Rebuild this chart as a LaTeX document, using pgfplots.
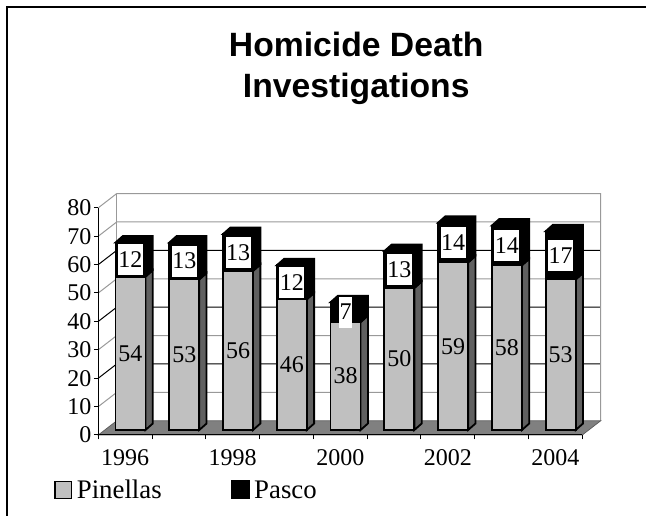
\documentclass[border=0pt]{standalone}
\usepackage{fontspec}
\setmainfont{Liberation Serif}
\newfontfamily\titlef{Liberation Sans}
\usepackage{pgfplots}
\usepackage{pgfplotstable}
\pgfplotsset{compat=1.18}
\definecolor{barfront}{HTML}{C0C0C0}
\definecolor{barside}{HTML}{606060}
\definecolor{floorc}{HTML}{808080}
\pgfplotstableread{
x Pinellas Pasco
1 54 12
2 53 13
3 56 13
4 46 12
5 38 7
6 50 13
7 59 14
8 58 14
9 53 17
}\homdata
% grid line: left wall diagonal and back wall line
\newcommand\GridLine[2]{%
  \pgfmathsetmacro\gy{#1+5}%
  \addplot[draw=#2,line width=1pt] coordinates {(0.5,#1) (0.842,\gy) (9.842,\gy)};
}
% side and top faces of one bar: category, Pinellas, Pasco
\newcommand\BarSides[3]{%
  \pgfmathsetmacro\xL{#1+0.0985-0.279}%
  \pgfmathsetmacro\xR{#1+0.0985+0.279}%
  \pgfmathsetmacro\xB{\xR+0.136}%
  \pgfmathsetmacro\xT{\xL+0.136}%
  \pgfmathsetmacro\yB{1.76}%
  \pgfmathsetmacro\yBb{1.76+2.28}%
  \pgfmathsetmacro\yA{1.76+#2}%
  \pgfmathsetmacro\yAb{\yA+2.28}%
  \pgfmathsetmacro\yC{\yA+#3}%
  \pgfmathsetmacro\yCb{\yC+2.28}%
  \addplot[fill=barside,draw=black,line width=1.8pt] coordinates {(\xR,\yB) (\xB,\yBb) (\xB,\yAb) (\xR,\yA)} --cycle;
  \addplot[fill=black,draw=black,line width=1.8pt] coordinates {(\xR,\yA) (\xB,\yAb) (\xB,\yCb) (\xT,\yCb) (\xL,\yC) (\xR,\yC)} --cycle;
}
\begin{document}
\begin{tikzpicture}
\useasboundingbox (0pt,0pt) rectangle (646pt,516pt);
\draw[line width=1.5pt,black] (7pt,0pt) -- (7pt,509pt) -- (646pt,509pt);
\begin{axis}[
  at={(98.3pt,81pt)},anchor=south west,scale only axis,width=484pt,height=227.2pt,
  xmin=0.5,xmax=9.5,ymin=0,ymax=80,clip=false,axis on top,
  axis x line=bottom,axis y line=left,axis line style={-,line width=1pt,black},
  xtick={1,3,5,7,9},xticklabels={1996,1998,2000,2002,2004},
  minor xtick={0.5,1.5,2.5,3.5,4.5,5.5,6.5,7.5,8.5,9.5},
  ytick={0,10,...,80},
  tick style={black,line width=1pt},
  major tick length=4.5pt,minor tick length=4.5pt,
  xtick style={draw=none},
  minor x tick style={draw=black,line width=1pt},
  tick align=outside,
  /pgf/number format/assume math mode=true,
  tick label style={font=\fontsize{24}{24}\selectfont},
  xticklabel style={yshift=-7pt},
  yticklabel style={xshift=1pt},
  title={\bfseries Homicide Death\\\bfseries Investigations},
  title style={font=\titlef\fontsize{33.7}{41}\selectfont,align=center,at={(axis description cs:0.533,1.764)},anchor=north},
]
\addplot[fill=white,draw=none] coordinates {(0.842,5) (9.842,5) (9.842,85) (0.842,85)} --cycle;
\GridLine{10}{gray!80}
\GridLine{20}{black}
\GridLine{30}{gray!80}
\GridLine{40}{black}
\GridLine{50}{gray!80}
\GridLine{60}{black}
\GridLine{70}{gray!80}
\addplot[draw=gray!80,line width=1pt] coordinates {(0.5,80) (0.842,85) (9.842,85) (9.842,5)};
\addplot[draw=gray!80,line width=1pt] coordinates {(0.842,5) (0.842,85)};
\addplot[fill=floorc,draw=floorc!70!black,line width=0.7pt] coordinates {(0.5,0) (9.5,0) (9.842,5) (0.842,5)} --cycle;
\BarSides{1}{54}{12}
\BarSides{2}{53}{13}
\BarSides{3}{56}{13}
\BarSides{4}{46}{12}
\BarSides{5}{38}{7}
\BarSides{6}{50}{13}
\BarSides{7}{59}{14}
\BarSides{8}{58}{14}
\BarSides{9}{53}{17}
\end{axis}
\begin{axis}[
  at={(103.6pt,86pt)},anchor=south west,scale only axis,width=484pt,height=227.2pt,
  xmin=0.5,xmax=9.5,ymin=0,ymax=80,clip=false,hide axis,
  ybar stacked,bar width=30pt,
  legend columns=2,
  area legend,
  legend style={at={(axis description cs:-0.103,-0.264)},anchor=west,draw=none,fill=none,inner sep=0pt,
    font=\fontsize{26.8}{26.8}\selectfont,
    nodes={inner xsep=4.5pt,inner ysep=0pt},
    /tikz/column 2/.style={column sep=65pt}},
]
\addplot[fill=barfront,draw=black,line width=1.8pt,
  legend image code/.code={\draw[fill=barfront,draw=black,line width=1.8pt] (0.9pt,-8.5pt) rectangle (17.5pt,8.5pt);}]
  table[x=x,y=Pinellas] {\homdata};
\addplot[fill=black,draw=black,line width=1.8pt,
  legend image code/.code={\draw[fill=black,draw=black,line width=1pt] (0.5pt,-9pt) rectangle (18pt,9pt);}]
  table[x=x,y=Pasco] {\homdata};
\legend{Pinellas,Pasco}
\end{axis}
\begin{axis}[
  at={(103.6pt,86pt)},anchor=south west,scale only axis,width=484pt,height=227.2pt,
  xmin=0.5,xmax=9.5,ymin=0,ymax=80,clip=false,hide axis,
  /pgf/number format/assume math mode=true,
  point meta=explicit,
  nodes near coords={\pgfmathprintnumber{\pgfplotspointmeta}},
]
\addplot[draw=none,mark=none,
  every node near coord/.style={anchor=center,font=\fontsize{24}{24}\selectfont,text=black}]
  table[x=x,y expr=\thisrow{Pinellas}/2,meta=Pinellas] {\homdata};
\addplot[draw=none,mark=none,
  every node near coord/.style={anchor=center,font=\fontsize{24}{24}\selectfont,text=black,fill=white,inner xsep=0.5pt,inner ysep=0pt,minimum height=31pt}]
  table[x=x,y expr=\thisrow{Pinellas}+\thisrow{Pasco}/2,meta=Pasco] {\homdata};
\end{axis}
\end{tikzpicture}
\end{document}
